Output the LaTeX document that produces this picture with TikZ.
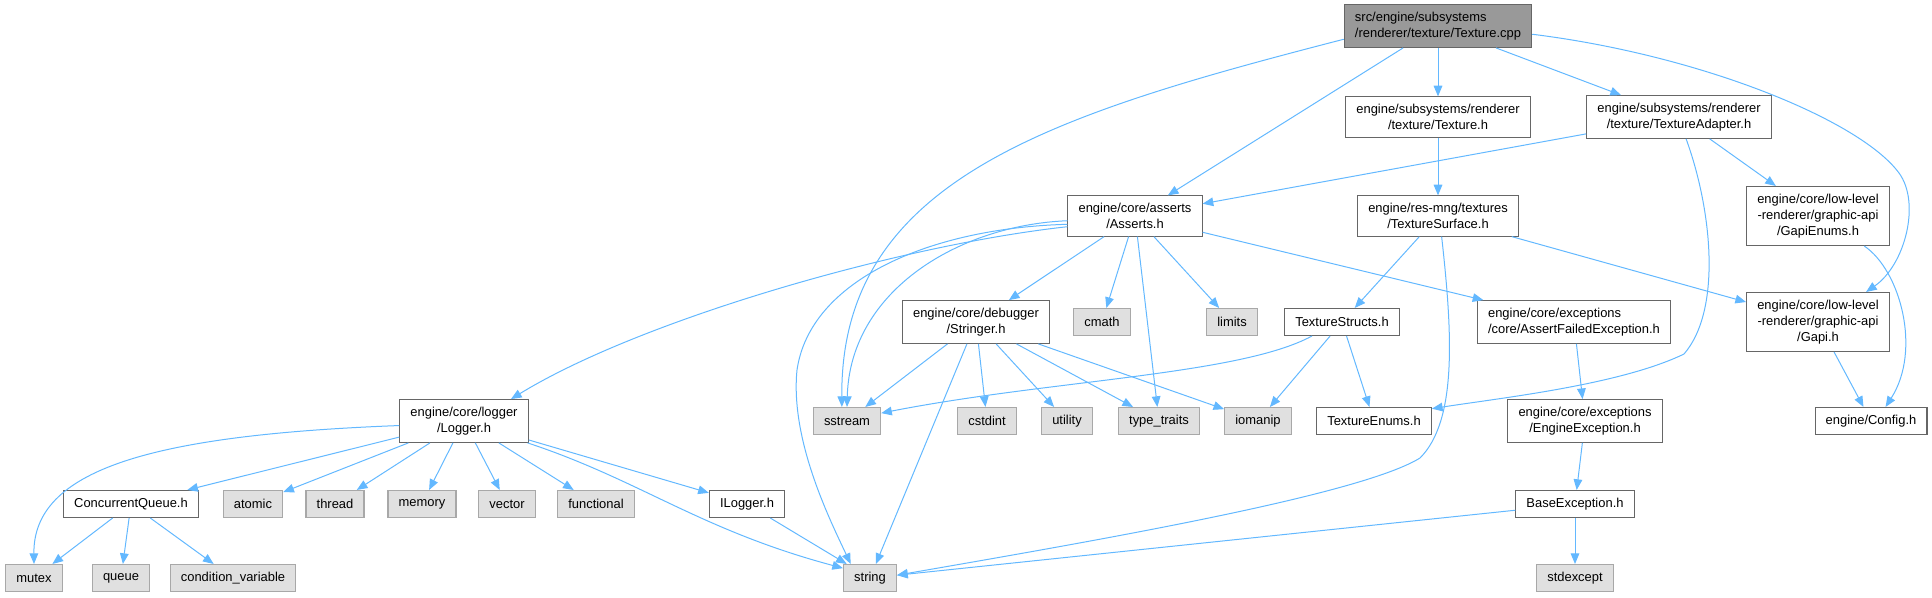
\documentclass[tikz,border=0pt]{standalone}
\usepackage{fontspec}
\setmainfont{Liberation Sans}
\usetikzlibrary{arrows.meta}
\definecolor{edgeblue}{HTML}{63B8FF}
\definecolor{fileframe}{HTML}{666666}
\definecolor{sysframe}{HTML}{A8A8A8}
\definecolor{sysfill}{HTML}{E0E0E0}
\definecolor{rootfill}{HTML}{999999}
\begin{document}
\begin{tikzpicture}[x=0.75pt,y=-0.75pt,
    box/.style={draw,line width=0.8pt,inner xsep=8pt,inner ysep=5.4pt,
      minimum height=20.25pt,align=center,
      font=\fontsize{9.7}{12.2}\selectfont},
    file/.style={box,draw=fileframe,fill=white},
    sysfile/.style={box,draw=sysframe,fill=sysfill},
    rootfile/.style={box,draw=fileframe,fill=rootfill},
    dep/.style={draw=edgeblue,line width=0.75pt,-{Triangle[length=8pt,width=6.5pt]}}]
    \useasboundingbox (0,0) rectangle (1932,597);
    % top rows
    \node[rootfile,align=left] (cpp) at (1438,26) {src/engine/subsystems\\/renderer/texture/Texture.cpp};
    \node[file] (textureh) at (1438,117) {engine/subsystems/renderer\\/texture/Texture.h};
    \node[file] (adapter) at (1679,117) {engine/subsystems/renderer\\/texture/TextureAdapter.h};
    \node[file] (asserts) at (1135,216) {engine/core/asserts\\/Asserts.h};
    \node[file] (surface) at (1438,216) {engine/res-mng/textures\\/TextureSurface.h};
    \node[file] (gapienums) at (1818,216) {engine/core/low-level\\-renderer/graphic-api\\/GapiEnums.h};
    \node[file] (stringer) at (976,322) {engine/core/debugger\\/Stringer.h};
    \node[sysfile] (cmath) at (1102,322) {cmath};
    \node[sysfile] (limits) at (1232,322) {limits};
    \node[file] (structs) at (1342,322) {TextureStructs.h};
    \node[file,align=left] (afe) at (1574,322) {engine/core/exceptions\\/core/AssertFailedException.h};
    \node[file] (gapi) at (1818,322) {engine/core/low-level\\-renderer/graphic-api\\/Gapi.h};
    % middle row
    \node[file] (logger) at (464,421) {engine/core/logger\\/Logger.h};
    \node[sysfile] (sstream) at (847,421) {sstream};
    \node[sysfile] (cstdint) at (987,421) {cstdint};
    \node[sysfile] (utility) at (1067,421) {utility};
    \node[sysfile] (typetraits) at (1159,421) {type\_traits};
    \node[sysfile] (iomanip) at (1258,421) {iomanip};
    \node[file] (enums) at (1374,421) {TextureEnums.h};
    \node[file] (engexc) at (1585,421) {engine/core/exceptions\\/EngineException.h};
    \node[file] (config) at (1871,421) {engine/Config.h};
    % bottom rows
    \node[file] (cqueue) at (131,504) {ConcurrentQueue.h};
    \node[sysfile] (atomic) at (253,504) {atomic};
    \node[sysfile] (thread) at (335,504) {thread};
    \node[sysfile] (memory) at (422,504) {memory};
    \node[sysfile] (vector) at (507,504) {vector};
    \node[sysfile] (functional) at (596,504) {functional};
    \node[file] (ilogger) at (747,504) {ILogger.h};
    \node[file] (baseexc) at (1575,504) {BaseException.h};
    \node[sysfile] (mutex) at (34,578) {mutex};
    \node[sysfile] (queue) at (121,578) {queue};
    \node[sysfile] (condvar) at (233,578) {condition\_variable};
    \node[sysfile] (string) at (870,578) {string};
    \node[sysfile] (stdexcept) at (1575,578) {stdexcept};
    % edges from Texture.cpp
    \draw[dep] (cpp) -- (asserts);
    \draw[dep] (cpp) -- (textureh);
    \draw[dep] (cpp) -- (adapter);
    \draw[dep] (cpp.188) .. controls (1050,115) and (840,180) .. (sstream.110);
    \draw[dep] (cpp.355) .. controls (1700,55) and (1860,120) .. (1899,173)
      .. controls (1921,203) and (1905,265) .. (gapi.32);
    \draw[dep] (textureh) -- (surface);
    \draw[dep] (adapter) -- (asserts);
    \draw[dep] (adapter) -- (gapienums);
    \draw[dep] (adapter.288) .. controls (1712,210) and (1722,310) .. (1684,354)
      .. controls (1620,385) and (1500,398) .. (enums.12);
    \draw[dep] (gapienums.327) .. controls (1900,270) and (1922,350) .. (config.44);
    \draw[dep] (surface) -- (structs);
    \draw[dep] (surface) -- (gapi);
    \draw[dep] (surface.280) .. controls (1452,330) and (1458,420) .. (1420,458)
      .. controls (1360,495) and (1100,540) .. (string.6);
    % edges from Asserts.h
    \draw[dep] (asserts.189) .. controls (900,245) and (640,320) .. (logger.25);
    \draw[dep] (asserts.184) .. controls (960,225) and (850,290) .. (sstream.north);
    \draw[dep] (asserts.187) .. controls (930,228) and (810,280) .. (797,370)
      .. controls (790,440) and (830,520) .. (string.144);
    \foreach \dst in {stringer,cmath,typetraits,limits,afe}
      {\draw[dep] (asserts) -- (\dst);}
    % edges from Stringer.h and TextureStructs.h
    \foreach \dst in {sstream,string,cstdint,utility,typetraits,iomanip}
      {\draw[dep] (stringer) -- (\dst);}
    \draw[dep] (structs.205) .. controls (1240,375) and (1050,380) .. (sstream.13);
    \draw[dep] (structs) -- (iomanip);
    \draw[dep] (structs) -- (enums);
    % exceptions and gapi
    \draw[dep] (afe) -- (engexc);
    \draw[dep] (engexc) -- (baseexc);
    \draw[dep] (baseexc) -- (string);
    \draw[dep] (baseexc) -- (stdexcept);
    \draw[dep] (gapi) -- (config);
    % edges from Logger.h
    \draw[dep] (logger.184) .. controls (150,435) and (33,470) .. (mutex.north);
    \foreach \dst in {cqueue,atomic,thread,memory,vector,functional,ilogger}
      {\draw[dep] (logger) -- (\dst);}
    \draw[dep] (logger.341) .. controls (640,480) and (700,530) .. (string.160);
    \foreach \dst in {mutex,queue,condvar}
      {\draw[dep] (cqueue) -- (\dst);}
    \draw[dep] (ilogger) -- (string);
\end{tikzpicture}
\end{document}
